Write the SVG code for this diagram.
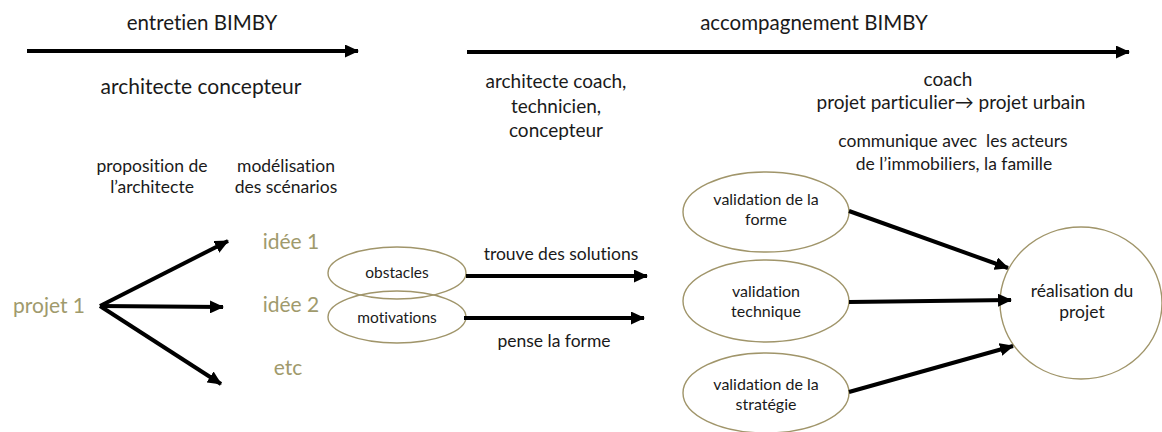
<svg xmlns="http://www.w3.org/2000/svg" width="1162" height="432" viewBox="0 0 1162 432">
<style>
text{font-family:Lato,"Open Sans","Liberation Sans",sans-serif;fill:#1a1a1a;text-anchor:middle;white-space:pre;font-variant-ligatures:none}
.h{font-size:20.5px}
.m{font-size:17.5px}
.l{font-size:19px}
.e{font-size:16px}
.o{fill:#a09a6c;font-size:21px}
.n{fill:none;stroke:#a0956a;stroke-width:1.4}
.c{stroke:#000;stroke-width:4;fill:none;marker-end:url(#a)}
</style>
<defs>
<marker id="a" markerUnits="userSpaceOnUse" markerWidth="14" markerHeight="13" refX="13" refY="6.5" orient="auto">
<path d="M0,0L14,6.5L0,13Z" fill="#000"/>
</marker>
</defs>
<rect width="1162" height="432" fill="#fff"/>
<g id="labels">
<text class="h" x="202" y="30">entretien BIMBY</text>
<text class="h" x="201" y="94" style="font-size:21px">architecte concepteur</text>
<text class="m" x="152" y="172">proposition de</text>
<text class="m" x="152" y="193">l’architecte</text>
<text class="m" x="286" y="172">modélisation</text>
<text class="m" x="286" y="193">des scénarios</text>
<text class="h" x="814" y="30">accompagnement BIMBY</text>
<text class="l" x="556" y="88">architecte coach,</text>
<text class="l" x="556" y="113">technicien,</text>
<text class="l" x="556" y="137">concepteur</text>
<text class="l" x="948" y="86">coach</text>
<text class="l" x="951" y="109">projet particulier→ projet urbain</text>
<text class="m" x="953" y="147">communique avec  les acteurs</text>
<text class="m" x="954" y="170">de l’immobiliers, la famille</text>
<text class="m" x="561" y="260">trouve des solutions</text>
<text class="m" x="554" y="347">pense la forme</text>
</g>
<g id="projet1"><text class="o" x="49" y="313">projet 1</text></g>
<g id="idee1"><text class="o" x="291" y="249">idée 1</text></g>
<g id="idee2"><text class="o" x="291" y="312">idée 2</text></g>
<g id="etc"><text class="o" x="288" y="375">etc</text></g>
<g id="obstacles"><ellipse class="n" cx="397" cy="273" rx="69" ry="26"/><text class="e" x="397" y="278" style="font-size:15.5px">obstacles</text></g>
<g id="motivations"><ellipse class="n" cx="397" cy="317" rx="69" ry="26"/><text class="e" x="397" y="323" style="font-size:15.5px">motivations</text></g>
<g id="vforme"><ellipse class="n" cx="766" cy="212" rx="83" ry="40"/><text class="e" x="766" y="205">validation de la</text><text class="e" x="766" y="225">forme</text></g>
<g id="vtech"><ellipse class="n" cx="766" cy="301" rx="83" ry="41"/><text class="e" x="766" y="297">validation</text><text class="e" x="766" y="317">technique</text></g>
<g id="vstrat"><ellipse class="n" cx="766" cy="393" rx="83" ry="40"/><text class="e" x="766" y="390">validation de la</text><text class="e" x="766" y="410">stratégie</text></g>
<g id="realisation"><ellipse class="n" cx="1081" cy="303" rx="81" ry="76"/><text class="m" x="1082" y="297">réalisation du</text><text class="m" x="1082" y="318">projet</text></g>
<g id="connectors">
<line class="c" x1="27" y1="51" x2="358" y2="51"/>
<line class="c" x1="467" y1="52" x2="1129" y2="52"/>
<line class="c" x1="100" y1="306" x2="228" y2="241"/>
<line class="c" x1="100" y1="306" x2="223" y2="307"/>
<line class="c" x1="100" y1="306" x2="221" y2="384"/>
<line class="c" x1="466" y1="276" x2="647" y2="276"/>
<line class="c" x1="464" y1="318" x2="644" y2="318"/>
<line class="c" x1="849" y1="211" x2="1008" y2="268"/>
<line class="c" x1="849" y1="302" x2="1011" y2="300"/>
<line class="c" x1="849" y1="392" x2="1013" y2="346"/>
</g>
</svg>
